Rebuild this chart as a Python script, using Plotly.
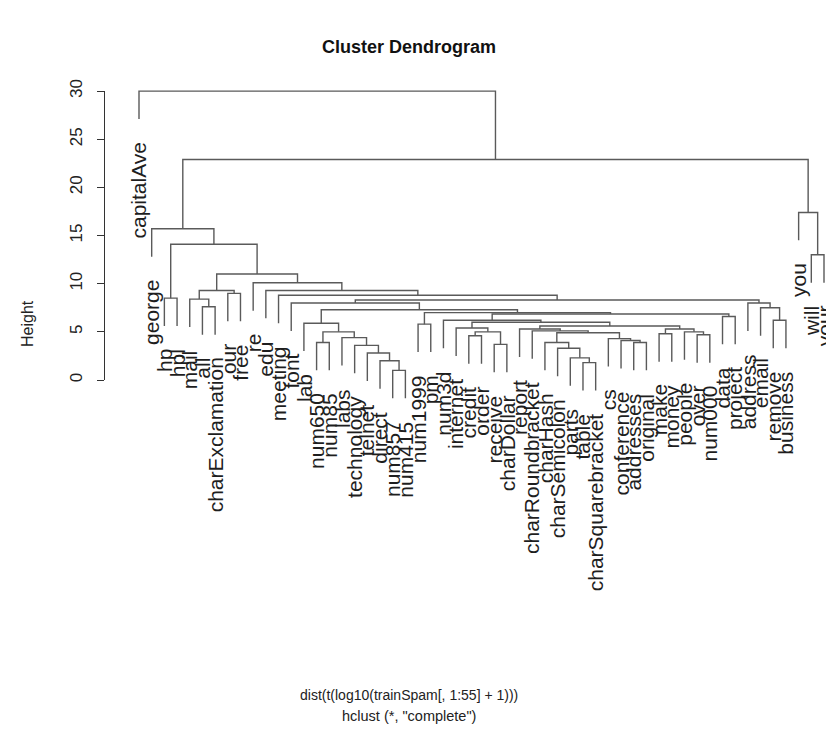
import plotly.graph_objects as go

# ---------------- data ----------------
labels = ["capitalAve", "george", "hp", "hpl", "mail", "all", "charExclamation", "our", "free",
          "re", "edu", "meeting", "font", "lab", "num650", "num85", "labs", "technology", "telnet",
          "direct", "num857", "num415", "num1999", "pm", "num3d", "internet", "credit", "order",
          "receive", "charDollar", "report", "charRoundbracket", "charHash", "charSemicolon",
          "parts", "table", "charSquarebracket", "cs", "conference", "addresses", "original",
          "make", "money", "people", "over", "num000", "data", "project", "address", "email",
          "remove", "business", "you", "will", "your"]

# merges: entries are leaf names or indices of earlier merges
merge_a = ["table", "parts", "charSemicolon", "charHash", "addresses", "conference", "cs", 3,
           "charRoundbracket", "report", "make", "over", "people", 10, 9, "receive", "credit", 16,
           "internet", 18, "num3d", "data", 20, "num1999", 23, "num857", "direct", "telnet",
           "technology", "labs", "num650", 30, "lab", 32, "font", "remove", "email", "address",
           34, "meeting", "edu", "re", "all", "mail", "our", 43, 45, "hp", 47, "george", "will",
           "you", 49, "capitalAve"]
merge_b = ["charSquarebracket", 0, 1, 2, "original", 4, 5, 6,
           7, 8, "money", "num000", 11, 12, 13, "charDollar", "order", 15,
           17, 14, 19, "project", 21, "pm", 22, "num415", 25, 26,
           27, 28, "num85", 29, 31, 24, 33, "business", 35, 36,
           37, 38, 39, 40, "charExclamation", 42, "free", 44, 41, "hpl", 46, 48, "your",
           50, 51, 52]
merge_h = [1.8, 2.3, 3.3, 3.9, 3.9, 4.1, 4.3, 4.9,
           5.1, 5.3, 4.8, 4.7, 5.0, 5.3, 5.6, 3.7, 4.6, 5.0,
           5.4, 6.0, 6.2, 6.6, 6.85, 5.8, 7.0, 1.0, 2.0, 2.8,
           3.6, 4.4, 3.9, 5.0, 5.9, 7.3, 8.0, 6.2, 7.5, 8.0,
           8.3, 8.8, 9.3, 10.1, 7.6, 8.4, 9.0, 9.3, 11.0, 8.5, 14.1, 15.7, 13.0,
           17.4, 22.9, 30.0]
hang = 2.9
y_ticks = [0, 5, 10, 15, 20, 25, 30]

title = "Cluster Dendrogram"
ylab = "Height"
sub1 = "dist(t(log10(trainSpam[, 1:55] + 1)))"
sub2 = 'hclust (*, "complete")'

# ---------------- geometry helpers (figure mapping) ----------------
W, H = 826, 738
LEAF1_PX, LEAFN_PX = 139, 824
Y0_PX, PX_PER_UNIT = 380, 9.63
n = len(labels)
ux = (LEAFN_PX - LEAF1_PX) / (n - 1)
x0 = 1 - LEAF1_PX / ux
x1 = x0 + W / ux
ylo = (Y0_PX - H) / PX_PER_UNIT
yhi = Y0_PX / PX_PER_UNIT

leaf_x = {name: i + 1 for i, name in enumerate(labels)}
leaf_bottom = {}
node_x, node_h = [], []
seg_x, seg_y = [], []

def info(c):
    if isinstance(c, str):
        return leaf_x[c], None
    return node_x[c], node_h[c]

for a, b, h in zip(merge_a, merge_b, merge_h):
    xa, ha = info(a)
    xb, hb = info(b)
    if ha is None:
        ha = h - hang
        leaf_bottom[a] = ha
    if hb is None:
        hb = h - hang
        leaf_bottom[b] = hb
    seg_x += [xa, xa, xb, xb, None]
    seg_y += [ha, h, h, hb, None]
    node_x.append((xa + xb) / 2)
    node_h.append(h)

FONT = "Liberation Sans, Arial, Helvetica, sans-serif"

fig = go.Figure()
fig.add_trace(go.Scatter(x=seg_x, y=seg_y, mode="lines",
                         line=dict(color="#5a5a5a", width=1.4),
                         hoverinfo="skip", showlegend=False))
# invisible trace on the axis-only y2
fig.add_trace(go.Scatter(x=[None], y=[None], yaxis="y2", showlegend=False, hoverinfo="skip"))

lab_font = dict(family=FONT, size=21, color="#1e1e1e")
for name in labels:
    fig.add_annotation(x=leaf_x[name], y=leaf_bottom[name], text=name, textangle=-90,
                       xanchor="center", yanchor="top", yshift=-21, showarrow=False,
                       font=lab_font, xref="x", yref="y")

fig.add_annotation(x=409 / W, y=1 - 47 / H, xref="paper", yref="paper", text="<b>" + title + "</b>",
                   xanchor="center", yanchor="middle",
                   showarrow=False, font=dict(family=FONT, size=18, color="#111"))
fig.add_annotation(x=28 / W, y=1 - 324 / H, xref="paper", yref="paper", text=ylab, textangle=-90,
                   xanchor="center", yanchor="middle",
                   showarrow=False, font=dict(family=FONT, size=16, color="#222"))
fig.add_annotation(x=409 / W, y=1 - 695 / H, xref="paper", yref="paper", text=sub1,
                   xanchor="center", yanchor="middle",
                   showarrow=False, font=dict(family=FONT, size=14, color="#222"))
fig.add_annotation(x=409 / W, y=1 - 716 / H, xref="paper", yref="paper", text=sub2,
                   xanchor="center", yanchor="middle",
                   showarrow=False, font=dict(family=FONT, size=14.5, color="#222"))

dom_lo = 1 - Y0_PX / H
dom_hi = 1 - (Y0_PX - max(y_ticks) * PX_PER_UNIT) / H

fig.update_layout(
    width=W, height=H, margin=dict(l=0, r=0, t=0, b=0, pad=0, autoexpand=False),
    paper_bgcolor="white", plot_bgcolor="rgba(0,0,0,0)",
    xaxis=dict(range=[x0, x1], visible=False, fixedrange=True, automargin=False),
    yaxis=dict(range=[ylo, yhi], visible=False, fixedrange=True, automargin=False),
    yaxis2=dict(domain=[dom_lo, dom_hi], range=[0, max(y_ticks)], anchor="free", position=104 / W,
                tickvals=y_ticks, ticktext=[str(t) for t in y_ticks], tickangle=-90,
                ticks="outside", ticklen=7, tickwidth=1, tickcolor="#333",
                showline=True, linecolor="#333", linewidth=1, showgrid=False, zeroline=False,
                ticklabelstandoff=8, automargin=False,
                tickfont=dict(family=FONT, size=17, color="#222"),
                fixedrange=True),
    showlegend=False,
)

fig.write_html("out.html")
